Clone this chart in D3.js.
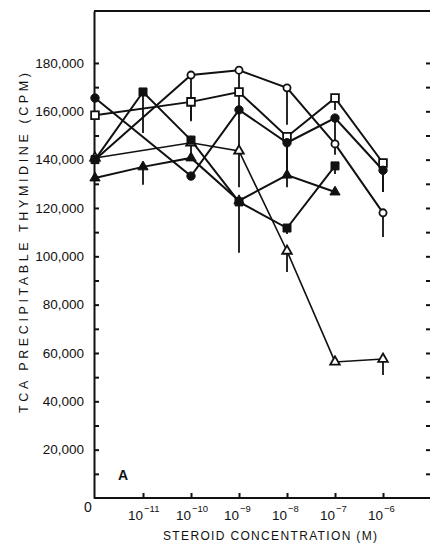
<!DOCTYPE html>
<html>
<head>
<meta charset="utf-8">
<script src="https://cdn.jsdelivr.net/npm/d3@7"></script>
<style>
  body { margin: 0; background: #fff; }
  text { font-family: "Liberation Sans", Arial, sans-serif; fill: #111; }
</style>
</head>
<body>
<svg id="chart" width="430" height="546"></svg>
<script>
// concentrations (exponent of 10, "0" = no steroid)
const categories = ["0", "-11", "-10", "-9", "-8", "-7", "-6"]

// CPM values per series, null = no point
const openCircle     = [140000, null, 175000, 177000, 169700, 146500, 118000]
const openSquare     = [158400, null, 163900, 168000, 149500, 165500, 138600]
const filledCircle   = [165500, null, 133200, 160600, 147000, 157200, 135600]
const filledSquare   = [140000, 168000, 148100, 122500, 111700, 137400, null]
const filledTriangle = [132400, 137000, 140700, 123000, 133600, 126600, null]
const openTriangle   = [140700, null, 147000, 143600, 102200, 56300, 57500]

// downward error bar lengths (CPM)
const errOpenCircle     = [0, 0, 18600, 9000, 15300, 4500, 10000]
const errOpenSquare     = [0, 0, 8000, 7500, 14000, 5000, 12000]
const errFilledCircle   = [0, 0, 0, 17000, 14000, 9100, 9000]
const errFilledSquare   = [0, 17000, 7400, 21000, 2500, 3300, 0]
const errFilledTriangle = [0, 7400, 0, 0, 5000, 0, 0]
const errOpenTriangle   = [0, 0, 0, 15000, 8700, 0, 6600]

const yTicks = d3.range(10000, 180001, 10000)

// open markers first so the filled ones sit on top
const series = [
  { values: openTriangle,   err: errOpenTriangle,   shape: d3.symbolTriangle, filled: false, size: 40, lw: 1.6 },
  { values: openSquare,     err: errOpenSquare,     shape: d3.symbolSquare,   filled: false, size: 60, lw: 2 },
  { values: openCircle,     err: errOpenCircle,     shape: d3.symbolCircle,   filled: false, size: 40, lw: 2 },
  { values: filledTriangle, err: errFilledTriangle, shape: d3.symbolTriangle, filled: true,  size: 45, lw: 2 },
  { values: filledSquare,   err: errFilledSquare,   shape: d3.symbolSquare,   filled: true,  size: 64, lw: 2 },
  { values: filledCircle,   err: errFilledCircle,   shape: d3.symbolCircle,   filled: true,  size: 55, lw: 2 }
]

const plotLeft = 94, plotRight = 431, plotTop = 11, plotBottom = 498

const svg = d3.select("#chart")

const x = d3.scalePoint()
  .domain(categories)
  .range([plotLeft + 1, plotLeft + 1 + 48 * 6])

const y = d3.scaleLinear()
  .domain([0, 201500])
  .range([plotBottom, plotTop])

// frame top
svg.append("line")
  .attr("x1", plotLeft).attr("x2", plotRight)
  .attr("y1", plotTop).attr("y2", plotTop)
  .attr("stroke", "#111").attr("stroke-width", 2)

// left axis
const yAxis = svg.append("g")
  .attr("transform", `translate(${plotLeft},0)`)
  .call(d3.axisLeft(y)
    .tickValues(yTicks)
    .tickSizeInner(-5)
    .tickSizeOuter(0)
    .tickPadding(10)
    .tickFormat(d => d % 20000 === 0 ? d3.format(",")(d) : ""))
yAxis.select(".domain").attr("stroke", "#111").attr("stroke-width", 2)
yAxis.selectAll(".tick line").attr("stroke", "#111").attr("stroke-width", 2)
yAxis.selectAll(".tick text")
  .attr("font-size", 13.5)
  .attr("font-family", "Liberation Sans, Arial, sans-serif")
  .attr("fill", "#111")

// right side ticks
const rAxis = svg.append("g")
  .attr("transform", `translate(${plotRight},0)`)
  .call(d3.axisRight(y)
    .tickValues(yTicks)
    .tickSizeInner(-5)
    .tickSizeOuter(0)
    .tickFormat(""))
rAxis.select(".domain").attr("stroke", "#111").attr("stroke-width", 2)
rAxis.selectAll(".tick line").attr("stroke", "#111").attr("stroke-width", 2)

// bottom axis
const xAxis = svg.append("g")
  .attr("transform", `translate(0,${plotBottom})`)
  .call(d3.axisBottom(x)
    .tickValues(categories.slice(1))
    .tickSizeInner(-5)
    .tickSizeOuter(0)
    .tickFormat(""))
xAxis.select(".domain").attr("d", `M${plotLeft},0H${plotRight}`).attr("stroke", "#111").attr("stroke-width", 2)
xAxis.selectAll(".tick line").attr("stroke", "#111").attr("stroke-width", 2)

// x tick labels
svg.append("text")
  .attr("x", x("0") - 7).attr("y", 512)
  .attr("text-anchor", "middle")
  .attr("font-size", 14)
  .text("0")

const xl = svg.append("g").selectAll("text")
  .data(categories.slice(1))
  .join("text")
    .attr("x", d => x(d) - 15)
    .attr("y", 520)
    .attr("font-size", 13.5)
xl.append("tspan").text("10")
xl.append("tspan")
  .attr("dx", 1)
  .attr("dy", -8)
  .attr("font-size", 9.5)
  .text(d => "\u2212" + d.slice(1))

// axis titles
svg.append("text")
  .attr("x", 163).attr("y", 540)
  .attr("font-size", 12)
  .attr("textLength", 214)
  .attr("lengthAdjust", "spacing")
  .text("STEROID CONCENTRATION (M)")

svg.append("text")
  .attr("transform", "translate(28,243) rotate(-90)")
  .attr("x", -170).attr("y", 0)
  .attr("font-size", 12.5)
  .attr("textLength", 340)
  .attr("lengthAdjust", "spacing")
  .text("TCA PRECIPITABLE THYMIDINE (CPM)")

svg.append("text")
  .attr("x", 118).attr("y", 480)
  .attr("font-size", 14)
  .attr("font-weight", "bold")
  .text("A")

// lines
const line = d3.line()
  .x(d => x(d.c))
  .y(d => y(d.v))

const pts = s => categories.map((c, i) => ({ c, v: s.values[i], e: s.err[i] }))
  .filter(d => d.v !== null)

series.forEach(s => {
  svg.append("path")
    .datum(pts(s))
    .attr("d", line)
    .attr("fill", "none")
    .attr("stroke", "#111")
    .attr("stroke-width", s.lw)
})

// error bars
series.forEach(s => {
  svg.append("g").selectAll("line")
    .data(pts(s).filter(d => d.e > 0))
    .join("line")
      .attr("x1", d => x(d.c)).attr("x2", d => x(d.c))
      .attr("y1", d => y(d.v)).attr("y2", d => y(d.v - d.e))
      .attr("stroke", "#111")
      .attr("stroke-width", 1.8)
})

// markers
series.forEach(s => {
  svg.append("g").selectAll("path")
    .data(pts(s))
    .join("path")
      .attr("transform", d => `translate(${x(d.c)},${y(d.v)})`)
      .attr("d", d3.symbol().type(s.shape).size(s.size))
      .attr("fill", s.filled ? "#111" : "#fff")
      .attr("stroke", "#111")
      .attr("stroke-width", s.filled ? 1 : 1.8)
})
</script>
</body>
</html>
